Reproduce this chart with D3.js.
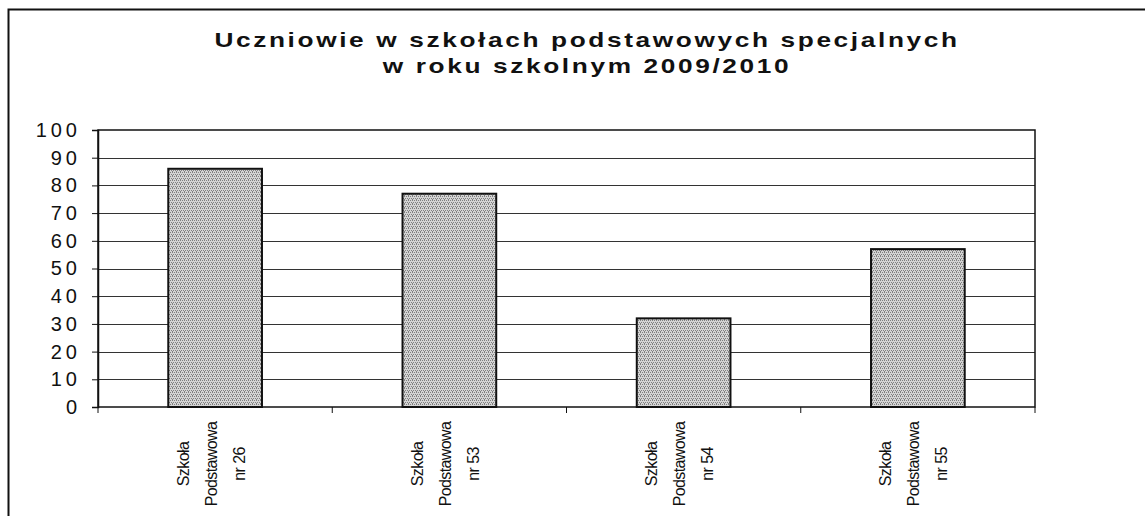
<!DOCTYPE html>
<html>
<head>
<meta charset="utf-8">
<script src="https://cdn.jsdelivr.net/npm/d3@7"></script>
<style>
  body { margin: 0; background: #fff; }
  svg { display: block; font-family: "Liberation Sans", Arial, sans-serif; }
</style>
</head>
<body>
<div id="root"></div>
<script>
const titleLines = ["Uczniowie w szkołach podstawowych specjalnych", "w roku szkolnym 2009/2010"];
const schools = ["Szkoła Podstawowa nr 26", "Szkoła Podstawowa nr 53", "Szkoła Podstawowa nr 54", "Szkoła Podstawowa nr 55"];
const students = [86, 77, 32, 57];
const yTicks = [0, 10, 20, 30, 40, 50, 60, 70, 80, 90, 100];

const w = 1145, h = 516;
const plotL = 98, plotR = 1035, plotT = 130, plotB = 407;

const svg = d3.select("#root").append("svg")
  .attr("width", w)
  .attr("height", h);

// stipple fill like the scanned bars
const defs = svg.append("defs");
const pat = defs.append("pattern")
  .attr("id", "dots")
  .attr("width", 4).attr("height", 4)
  .attr("patternUnits", "userSpaceOnUse");
pat.append("rect").attr("width", 4).attr("height", 4).attr("fill", "#d4d4d4");
[[0, 0], [2, 0], [1, 2], [3, 2], [0, 3]].forEach(p => {
  pat.append("rect")
    .attr("x", p[0]).attr("y", p[1])
    .attr("width", 1).attr("height", 1)
    .attr("fill", "#808080");
});

// outer frame (cut off right / bottom)
svg.append("path")
  .attr("d", `M8.5,${h + 2} L8.5,9.5 L${w + 2},9.5`)
  .attr("fill", "none")
  .attr("stroke", "#111")
  .attr("stroke-width", 2);

// title, scan is a bit stretched sideways
svg.append("g").selectAll("text")
  .data(titleLines)
  .enter()
  .append("text")
  .attr("transform", (d, i) => `translate(587,${47 + i * 26}) scale(1.25,1)`)
  .attr("text-anchor", "middle")
  .attr("font-size", 21)
  .attr("font-weight", "bold")
  .attr("letter-spacing", 2.1)
  .attr("fill", "#111")
  .text(d => d);

const x = d3.scaleBand()
  .domain(schools)
  .range([plotL, plotR])
  .paddingInner(0.6)
  .paddingOuter(0.3);

const y = d3.scaleLinear()
  .domain([0, 100])
  .range([plotB, plotT]);

// gridlines
svg.append("g")
  .selectAll("line")
  .data(yTicks.filter(t => t > 0 && t < 100))
  .enter()
  .append("line")
  .attr("x1", plotL).attr("x2", plotR)
  .attr("y1", d => Math.round(y(d)) + 0.5)
  .attr("y2", d => Math.round(y(d)) + 0.5)
  .attr("stroke", "#333")
  .attr("stroke-width", 1);

// plot frame
svg.append("rect")
  .attr("x", plotL).attr("y", plotT)
  .attr("width", plotR - plotL).attr("height", plotB - plotT)
  .attr("fill", "none")
  .attr("stroke", "#111")
  .attr("stroke-width", 1.5);

svg.selectAll(".bar")
  .data(students)
  .enter()
  .append("rect")
  .attr("class", "bar")
  .attr("x", (d, i) => x(schools[i]))
  .attr("y", d => y(d))
  .attr("width", x.bandwidth())
  .attr("height", d => plotB - y(d))
  .attr("fill", "url(#dots)")
  .attr("stroke", "#111")
  .attr("stroke-width", 2);

const yAxis = d3.axisLeft(y).tickValues(yTicks).tickSize(6).tickPadding(11);
const gy = svg.append("g")
  .attr("transform", `translate(${plotL},0)`)
  .call(yAxis);
gy.select(".domain").attr("stroke", "#111").attr("stroke-width", 1.5);
gy.selectAll(".tick line").attr("stroke", "#111");
gy.selectAll(".tick text")
  .attr("font-size", 20)
  .attr("letter-spacing", 4)
  .attr("fill", "#111")
  .attr("font-family", "'Liberation Sans', Arial, sans-serif");

// category boundary ticks on x axis
svg.append("g")
  .selectAll("line")
  .data(d3.range(schools.length + 1))
  .enter()
  .append("line")
  .attr("x1", i => plotL + i * (plotR - plotL) / schools.length)
  .attr("x2", i => plotL + i * (plotR - plotL) / schools.length)
  .attr("y1", plotB).attr("y2", plotB + 6)
  .attr("stroke", "#111");

// rotated multi-line labels
const labels = svg.append("g")
  .selectAll("g")
  .data(schools)
  .enter()
  .append("g")
  .attr("transform", d => `translate(${x(d) + x.bandwidth() / 2 - 4},464) rotate(-90)`);

labels.each(function(d) {
  const parts = ["Szkoła", "Podstawowa", d.replace("Szkoła Podstawowa ", "")];
  d3.select(this).selectAll("text")
    .data(parts)
    .enter()
    .append("text")
    .attr("x", 0)
    .attr("y", (p, i) => -28 + i * 28)
    .attr("dy", "0.35em")
    .attr("text-anchor", "middle")
    .attr("font-size", 16)
    .attr("letter-spacing", -0.6)
    .attr("fill", "#111")
    .text(p => p);
});
</script>
</body>
</html>
